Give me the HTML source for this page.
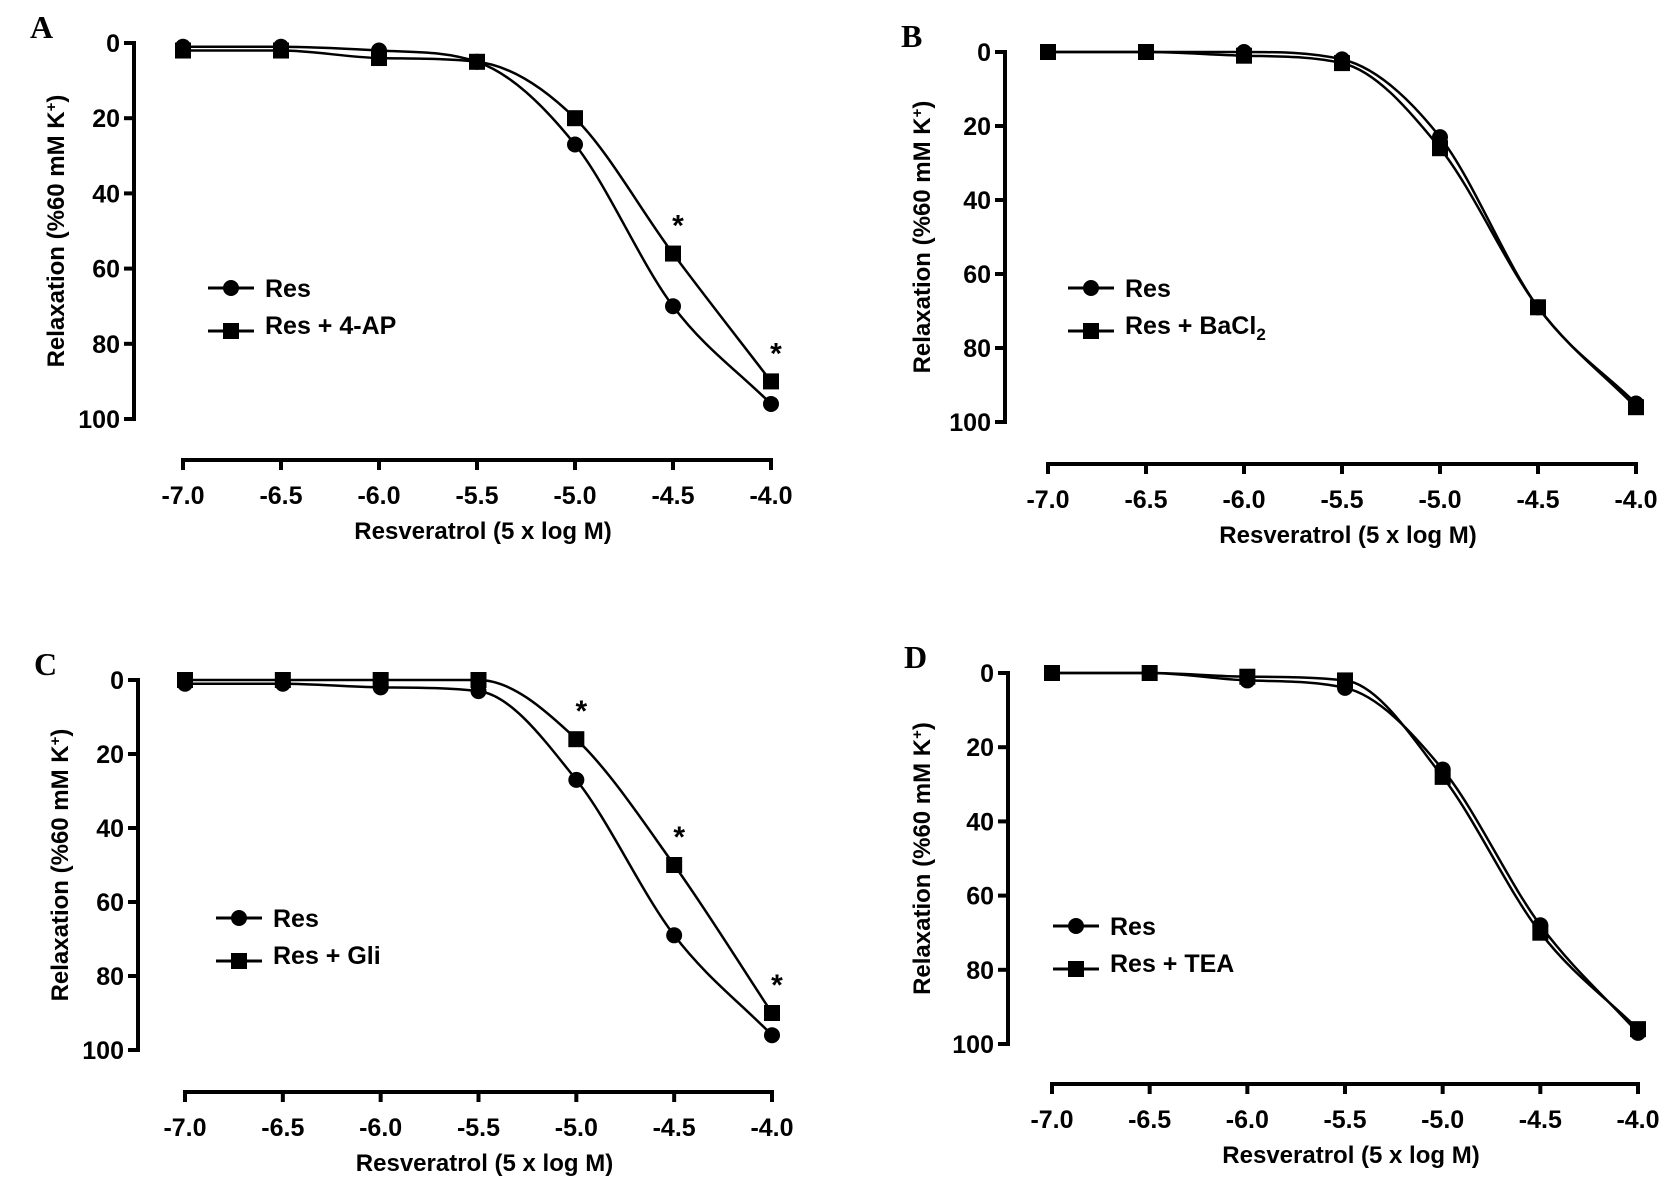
<!DOCTYPE html>
<html><head><meta charset="utf-8"><style>
html,body{margin:0;padding:0;background:#fff;}
svg{display:block;}
text{font-family:"Liberation Sans",Arial,sans-serif;font-weight:bold;fill:#000;}
</style></head>
<body>
<svg id="fig" width="1677" height="1181" viewBox="0 0 1677 1181" xmlns="http://www.w3.org/2000/svg"></svg>
<script>
// shared x categories (log M)
const xTicks = [-7.0, -6.5, -6.0, -5.5, -5.0, -4.5, -4.0];
const xTickLabels = ["-7.0","-6.5","-6.0","-5.5","-5.0","-4.5","-4.0"];
const yTicks = [0, 20, 40, 60, 80, 100];
// Panel A
const resA = [1, 1, 2, 5, 27, 70, 96];
const apA  = [2, 2, 4, 5, 20, 56, 90];
const starsA = [-4.5, -4.0];
// Panel B
const resB = [0, 0, 0, 2, 23, 69, 95];
const baB  = [0, 0, 1, 3, 26, 69, 96];
const starsB = [];
// Panel C
const resC = [1, 1, 2, 3, 27, 69, 96];
const gliC = [0, 0, 0, 0, 16, 50, 90];
const starsC = [-5.0, -4.5, -4.0];
// Panel D
const resD = [0, 0, 2, 4, 26, 68, 97];
const teaD = [0, 0, 1, 2, 28, 70, 96];
const starsD = [];

const NS = "http://www.w3.org/2000/svg";
const svg = document.getElementById("fig");
function mk(tag, attrs, parent, txt) {
  const e = document.createElementNS(NS, tag);
  for (const k in attrs) e.setAttribute(k, attrs[k]);
  if (txt !== undefined) e.textContent = txt;
  (parent || svg).appendChild(e);
  return e;
}

const panels = [
  {letter:"A", yx:134, y0:43, y100:419, xaxY:460, x0:183, x1:771, res:resA, drug:apA, stars:starsA, label2:"Res + 4-AP", legX:210, legY:288, lx:56},
  {letter:"B", yx:1005, y0:52, y100:422, xaxY:464, x0:1048, x1:1636, res:resB, drug:baB, stars:starsB, label2:"Res + BaCl", sub:"2", legX:1070, legY:288, lx:922},
  {letter:"C", yx:138, y0:680, y100:1050, xaxY:1092, x0:185, x1:772, res:resC, drug:gliC, stars:starsC, label2:"Res + Gli", legX:218, legY:918, lx:60},
  {letter:"D", yx:1008, y0:673, y100:1044, xaxY:1084, x0:1052, x1:1638, res:resD, drug:teaD, stars:starsD, label2:"Res + TEA", legX:1055, legY:926, lx:922}
];

// monotone cubic (Fritsch-Carlson) to avoid overshoot
function smoothPath(pts) {
  const n = pts.length, dx = [], m = [], t = [];
  for (let i = 0; i < n-1; i++) { dx.push(pts[i+1][0]-pts[i][0]); m.push((pts[i+1][1]-pts[i][1])/dx[i]); }
  t[0] = m[0]; t[n-1] = m[n-2];
  for (let i = 1; i < n-1; i++) t[i] = (m[i-1]*m[i] <= 0) ? 0 : (m[i-1]+m[i])/2;
  for (let i = 0; i < n-1; i++) {
    if (m[i] === 0) { t[i] = 0; t[i+1] = 0; continue; }
    const a = t[i]/m[i], b = t[i+1]/m[i], s = a*a + b*b;
    if (s > 9) { const k = 3/Math.sqrt(s); t[i] = k*a*m[i]; t[i+1] = k*b*m[i]; }
  }
  let d = "M" + pts[0][0] + "," + pts[0][1];
  for (let i = 0; i < n-1; i++) {
    const h = dx[i]/3;
    d += " C" + (pts[i][0]+h) + "," + (pts[i][1]+t[i]*h) + " " + (pts[i+1][0]-h) + "," + (pts[i+1][1]-t[i+1]*h) + " " + pts[i+1][0] + "," + pts[i+1][1];
  }
  return d;
}

panels.forEach(p => {
  const g = mk("g", {});
  
  
  const xs = v => p.x0 + (v - xTicks[0]) / (xTicks[xTicks.length-1] - xTicks[0]) * (p.x1 - p.x0);
  const ys = v => p.y0 + v / 100 * (p.y100 - p.y0);

  const L = mk("text", {x: p.yx - 104, y: p.y0 - 5, "font-size":32}, g, p.letter);
  
  
  L.style.fontFamily = '"Liberation Serif", serif';

  const ya = mk("line", {x1:p.yx, y1:p.y0-2, x2:p.yx, y2:p.y100+2, stroke:"#000", "stroke-width":4}, g);
  
  
  yTicks.forEach(t => {
    mk("line", {x1:p.yx-10, y1:ys(t), x2:p.yx, y2:ys(t), stroke:"#000", "stroke-width":4}, g);
    const tl = mk("text", {x:p.yx-14, y:ys(t)+9, "font-size":25, "text-anchor":"end"}, g, String(t));
    
    
  });
  const yt = mk("text", {x:0, y:0, "font-size":24, "text-anchor":"middle", transform:"translate(" + (p.lx+8) + "," + ((p.y0+p.y100)/2) + ") rotate(-90)"}, g);
  
  
  yt.appendChild(document.createTextNode("Relaxation (%60 mM K"));
  mk("tspan", {"baseline-shift":"super", "font-size":15}, yt, "+");
  mk("tspan", {}, yt, ")");

  const xa = mk("line", {x1:p.x0-2, y1:p.xaxY, x2:p.x1+2, y2:p.xaxY, stroke:"#000", "stroke-width":4}, g);
  
  
  xTicks.forEach((t, i) => {
    mk("line", {x1:xs(t), y1:p.xaxY, x2:xs(t), y2:p.xaxY+10, stroke:"#000", "stroke-width":4}, g);
    const tl = mk("text", {x:xs(t), y:p.xaxY+44, "font-size":25, "text-anchor":"middle"}, g, xTickLabels[i]);
    
    
  });
  const xt = mk("text", {x:(p.x0+p.x1)/2 + 6, y:p.xaxY+79, "font-size":24, "text-anchor":"middle"}, g, "Resveratrol (5 x log M)");
  
  

  [p.res, p.drug].forEach((arr, si) => {
    const pts = arr.map((v, i) => [xs(xTicks[i]), ys(v)]);
    const c = mk("path", {d:smoothPath(pts), fill:"none", stroke:"#000", "stroke-width":2.5}, g);
    
    
  });
  p.res.forEach((v, i) => {
    const m = mk("circle", {cx:xs(xTicks[i]), cy:ys(v), r:8, fill:"#000"}, g);
    
    
  });
  p.drug.forEach((v, i) => {
    const m = mk("rect", {x:xs(xTicks[i])-8, y:ys(v)-8, width:16, height:16, fill:"#000"}, g);
    
    
  });
  p.stars.forEach(sx => {
    const idx = xTicks.indexOf(sx);
    const s = mk("text", {x:xs(sx)+5, y:ys(p.drug[idx])-18, "font-size":30, "text-anchor":"middle"}, g, "*");
    
    
  });

  const lg = mk("g", {}, g);
  
  
  mk("line", {x1:p.legX-2, y1:p.legY, x2:p.legX+44, y2:p.legY, stroke:"#000", "stroke-width":3}, lg);
  mk("circle", {cx:p.legX+21, cy:p.legY, r:8, fill:"#000"}, lg);
  const t1 = mk("text", {x:p.legX+55, y:p.legY+9, "font-size":25}, lg, "Res");
  
  
  const ly2 = p.legY + 43;
  mk("line", {x1:p.legX-2, y1:ly2, x2:p.legX+44, y2:ly2, stroke:"#000", "stroke-width":3}, lg);
  mk("rect", {x:p.legX+13, y:ly2-8, width:16, height:16, fill:"#000"}, lg);
  const t2 = mk("text", {x:p.legX+55, y:ly2+3, "font-size":25}, lg, p.label2);
  
  
  if (p.sub) mk("tspan", {"font-size":17, dy:6}, t2, p.sub);
});
</script>
</body></html>
